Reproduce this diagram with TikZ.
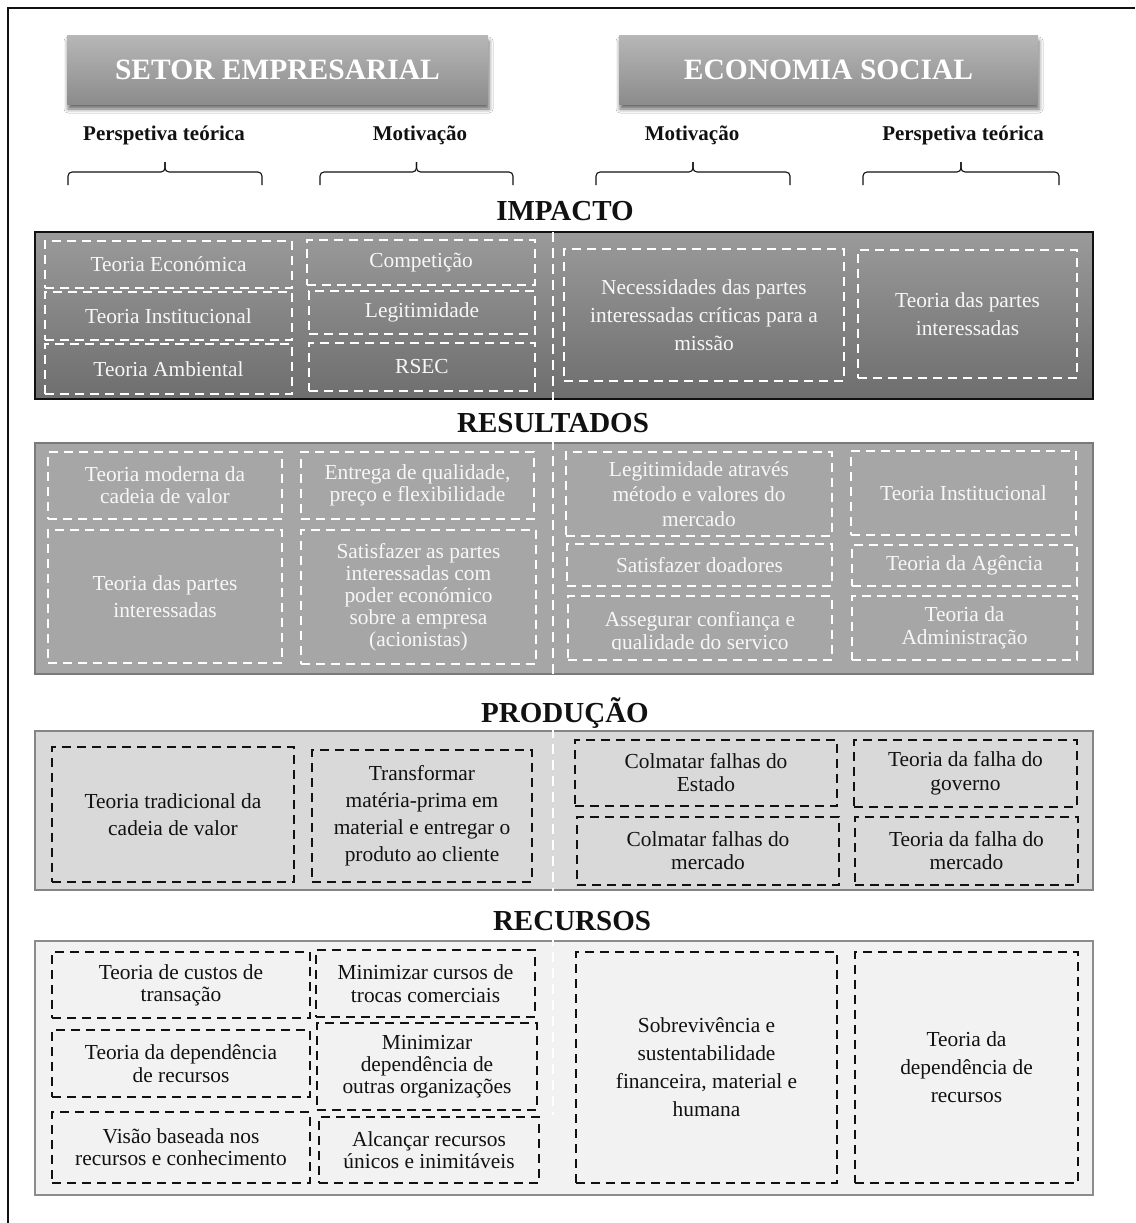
\documentclass[tikz,border=0pt]{standalone}
\usepackage{fontspec}
\setmainfont{Liberation Serif}
\usetikzlibrary{shadows.blur}

\definecolor{hdrtop}{HTML}{B6B6B6}
\definecolor{hdrbot}{HTML}{8C8C8C}
\definecolor{imptop}{HTML}{9A9A9A}
\definecolor{impbot}{HTML}{6E6E6E}
\definecolor{resfill}{HTML}{A6A6A6}
\definecolor{resline}{HTML}{7A7A7A}
\definecolor{profill}{HTML}{D9D9D9}
\definecolor{proline}{HTML}{858585}
\definecolor{recfill}{HTML}{F2F2F2}
\definecolor{recline}{HTML}{8C8C8C}
\definecolor{ink}{HTML}{111111}
\definecolor{pale}{HTML}{F7F7F7}

% box given by its corners (x1,y1) and (x2,y2), y measured downwards
\newcommand{\dbox}[7]{%
  \node[#1, minimum width={(#5)-(#3)}, minimum height={(#6)-(#4)}]
    (#2) at ({((#3)+(#5))/2},{((#4)+(#6))/2}) {#7};}
% upward brace over a column: left end, right end
\newcommand{\colbrace}[2]{%
  \draw[brc] (#1,185) -- (#1,172) -- ({((#1)+(#2))/2},172) -- ({((#1)+(#2))/2},162);
  \draw[brc] ({((#1)+(#2))/2},162) -- ({((#1)+(#2))/2},172) -- (#2,172) -- (#2,185);}

\begin{document}
\begin{tikzpicture}[x=1pt,y=-1pt,
  lead/.style={font=\fontsize{21.4}{#1}\selectfont},
  lead/.default=24,
  cell/.style={inner sep=0pt, align=center, line width=2.5pt,
    dash pattern=on 9pt off 6pt, lead},
  wbox/.style={cell, draw=white, text=pale},
  kbox/.style={cell, draw=ink, text=ink},
  hdr/.style={inner sep=0pt, top color=hdrtop, bottom color=hdrbot,
    text=white, font=\fontsize{29.5}{34}\selectfont\bfseries,
    blur shadow={shadow xshift=1pt, shadow yshift=-5pt,
      shadow blur radius=4pt, shadow opacity=60}},
  lab/.style={font=\fontsize{21}{25}\selectfont\bfseries, text=ink},
  sec/.style={font=\fontsize{29}{34}\selectfont\bfseries, text=ink},
  brc/.style={line width=1.1pt, draw=ink, rounded corners=4pt},
  panel/.style={inner sep=0pt},
]
\useasboundingbox (0,0) rectangle (1135,1223);
\fill[white] (0,0) rectangle (1135,1223);
\draw[line width=1.4pt, draw=ink] (8,1223) -- (8,8) -- (1135,8);

% sector headers
\dbox{hdr}{setor}{67}{36}{488}{104}{SETOR EMPRESARIAL}
\dbox{hdr}{econ}{619}{36}{1038}{104}{ECONOMIA SOCIAL}

% column labels and braces
\node[lab] (lbA) at (164,135) {Perspetiva teórica};
\node[lab] (lbB) at (420,135) {Motivação};
\node[lab] (lbC) at (692,135) {Motivação};
\node[lab] (lbD) at (963,135) {Perspetiva teórica};
\colbrace{68}{262}
\colbrace{320}{513}
\colbrace{596}{790}
\colbrace{863}{1059}

% level panels
\dbox{panel, top color=imptop, bottom color=impbot, draw=ink, line width=1.4pt}{pImp}{35}{232}{1093}{399}{}
\dbox{panel, fill=resfill, draw=resline, line width=2pt}{pRes}{35}{443}{1093}{674}{}
\dbox{panel, fill=profill, draw=proline, line width=2pt}{pPro}{35}{731}{1093}{890}{}
\dbox{panel, fill=recfill, draw=recline, line width=2.5pt}{pRec}{35}{941}{1093}{1195}{}

% split between the two sectors
\draw[white, line width=2pt, dash pattern=on 10pt off 6pt] (553,232) -- (553,1115);

% level titles
\node[sec] (tImp) at (565,211) {IMPACTO};
\node[sec] (tRes) at (553,423) {RESULTADOS};
\node[sec] (tPro) at (565,713) {PRODUÇÃO};
\node[sec] (tRec) at (572,921) {RECURSOS};

% IMPACTO
\dbox{wbox}{ie1}{45}{241}{292}{288}{Teoria Económica}
\dbox{wbox}{ie2}{45}{292}{292}{340}{Teoria Institucional}
\dbox{wbox}{ie3}{45}{344}{292}{394}{Teoria Ambiental}
\dbox{wbox}{im1}{307}{240}{535}{285}{Competição}
\dbox{wbox}{im2}{309}{291}{535}{334}{Legitimidade}
\dbox{wbox}{im3}{309}{343}{535}{391}{RSEC}
\dbox{wbox, lead=28}{is1}{564}{249}{844}{381}{Necessidades das partes\\interessadas críticas para a\\missão}
\dbox{wbox, lead=28}{is2}{858}{250}{1077}{378}{Teoria das partes\\interessadas}

% RESULTADOS
\dbox{wbox, lead=22}{r1}{48}{452}{282}{519}{Teoria moderna da\\cadeia de valor}
\dbox{wbox, lead=27}{r2}{48}{530}{282}{663}{Teoria das partes\\interessadas}
\dbox{wbox, lead=22}{r3}{301}{452}{534}{519}{Entrega de qualidade,\\preço e flexibilidade}
\dbox{wbox, lead=22}{r4}{301}{530}{536}{664}{Satisfazer as partes\\interessadas com\\poder económico\\sobre a empresa\\(acionistas)}
\dbox{wbox, lead=25}{r5}{566}{452}{832}{536}{Legitimidade através\\método e valores do\\mercado}
\dbox{wbox}{r6}{567}{544}{832}{586}{Satisfazer doadores}
\dbox{wbox}{r7}{568}{596}{832}{660}{}
\begin{scope}
  \clip (568,596) rectangle (832,649.5);
  \node[lead=23, text=pale, anchor=base] (r7a) at (700,626) {Assegurar confiança e};
  \node[lead=23, text=pale, anchor=base] (r7b) at (700,649) {qualidade do serviço};
\end{scope}
\dbox{wbox}{r8}{851}{451}{1076}{535}{Teoria Institucional}
\dbox{wbox}{r9}{852}{545}{1077}{586}{Teoria da Agência}
\dbox{wbox, lead=23}{r10}{852}{596}{1077}{660}{Teoria da\\Administração}

% PRODUÇÃO
\dbox{kbox, lead=27}{p1}{52}{747}{294}{882}{Teoria tradicional da\\cadeia de valor}
\dbox{kbox, lead=27}{p2}{312}{750}{532}{882}{Transformar\\matéria-prima em\\material e entregar o\\produto ao cliente}
\dbox{kbox, lead=23}{p3}{575}{740}{837}{806}{Colmatar falhas do\\Estado}
\dbox{kbox, lead=23}{p4}{577}{817}{839}{885}{Colmatar falhas do\\mercado}
\dbox{kbox, lead=24}{p5}{854}{740}{1077}{807}{Teoria da falha do\\governo}
\dbox{kbox, lead=23}{p6}{855}{817}{1078}{885}{Teoria da falha do\\mercado}

% RECURSOS
\dbox{kbox, lead=22}{c1}{52}{952}{310}{1018}{Teoria de custos de\\transação}
\dbox{kbox, lead=23}{c2}{52}{1030}{310}{1097}{Teoria da dependência\\de recursos}
\dbox{kbox, lead=22}{c3}{52}{1112}{310}{1183}{Visão baseada nos\\recursos e conhecimento}
\dbox{kbox, lead=23}{c4}{316}{950}{535}{1017}{Minimizar cursos de\\trocas comerciais}
\dbox{kbox, lead=22}{c5}{317}{1023}{537}{1110}{Minimizar\\dependência de\\outras organizações}
\dbox{kbox, lead=22}{c6}{319}{1117}{539}{1183}{Alcançar recursos\\únicos e inimitáveis}
\dbox{kbox, lead=28}{c7}{576}{952}{837}{1183}{Sobrevivência e\\sustentabilidade\\financeira, material e\\humana}
\dbox{kbox, lead=28}{c8}{855}{952}{1078}{1183}{Teoria da\\dependência de\\recursos}
\end{tikzpicture}
\end{document}
